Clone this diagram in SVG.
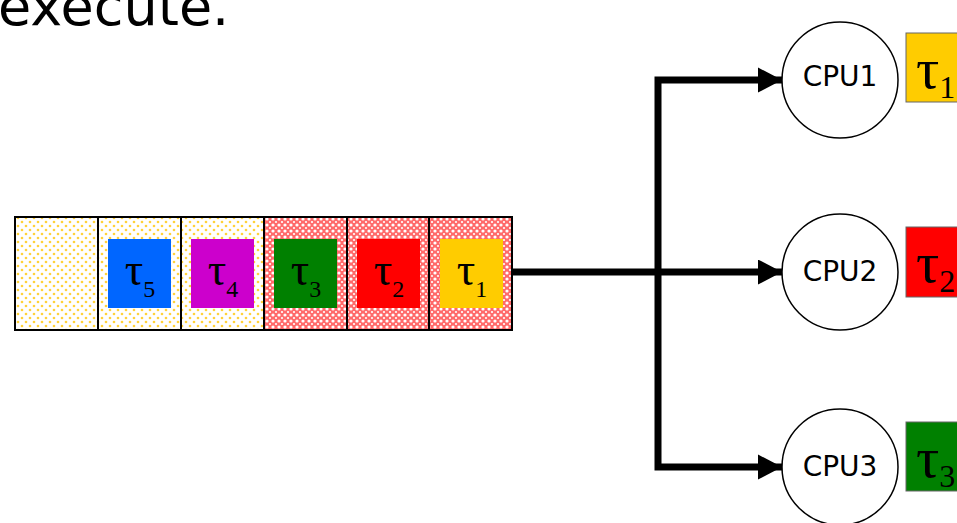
<svg xmlns="http://www.w3.org/2000/svg" width="957" height="523" viewBox="0 0 957 523">
<defs>
<pattern id="dots" width="8" height="8" patternUnits="userSpaceOnUse">
<rect width="8" height="8" fill="#fff"/>
<circle cx="2" cy="2" r="1.3" fill="#FFD23A"/>
<circle cx="6" cy="6" r="1.3" fill="#FFD23A"/>
</pattern>
<pattern id="check" width="6" height="6" patternUnits="userSpaceOnUse">
<rect width="6" height="6" fill="#FF6A6A"/>
<circle cx="3" cy="3" r="1.6" fill="#fff"/>
<circle cx="0" cy="0" r="1.1" fill="#fff"/>
<circle cx="6" cy="0" r="1.1" fill="#fff"/>
<circle cx="0" cy="6" r="1.1" fill="#fff"/>
<circle cx="6" cy="6" r="1.1" fill="#fff"/>
</pattern>
<marker id="arr" markerUnits="userSpaceOnUse" markerWidth="26" markerHeight="26" refX="24" refY="12.5" orient="auto">
<path d="M0,0 L24,12.5 L0,25 Z" fill="#000"/>
</marker>
</defs>
<style>
.cell{stroke:#000;stroke-width:2}
.tau{font-family:"Liberation Serif","Times New Roman",serif;fill:#000}
.cpu{fill:#fff;stroke:#000;stroke-width:1.5}
.cput{font-family:"DejaVu Sans",Verdana,sans-serif;font-size:28px;fill:#000}
.wire{fill:none;stroke:#000;stroke-width:7}
</style>

<text x="-2" y="25" font-family="DejaVu Sans, Verdana, sans-serif" font-size="54" fill="#000">execute.</text>

<g id="queue">
<rect class="cell" x="15" y="217" width="83" height="113" fill="url(#dots)"/>
<rect class="cell" x="98" y="217" width="83" height="113" fill="url(#dots)"/>
<rect class="cell" x="181" y="217" width="83" height="113" fill="url(#dots)"/>
<rect class="cell" x="264" y="217" width="83" height="113" fill="url(#check)"/>
<rect class="cell" x="347" y="217" width="82" height="113" fill="url(#check)"/>
<rect class="cell" x="429" y="217" width="83" height="113" fill="url(#check)"/>
</g>

<g id="task5">
<rect x="108" y="239" width="63" height="69" fill="#0066FF"/>
<text class="tau" x="140" y="285" font-size="46" text-anchor="middle">τ<tspan font-size="24" dy="12">5</tspan></text>
</g>
<g id="task4">
<rect x="191" y="239" width="63" height="69" fill="#CC00CC"/>
<text class="tau" x="223" y="285" font-size="46" text-anchor="middle">τ<tspan font-size="24" dy="12">4</tspan></text>
</g>
<g id="task3">
<rect x="274" y="239" width="63" height="69" fill="#008000"/>
<text class="tau" x="306" y="285" font-size="46" text-anchor="middle">τ<tspan font-size="24" dy="12">3</tspan></text>
</g>
<g id="task2">
<rect x="357" y="239" width="63" height="69" fill="#FF0000"/>
<text class="tau" x="389" y="285" font-size="46" text-anchor="middle">τ<tspan font-size="24" dy="12">2</tspan></text>
</g>
<g id="task1">
<rect x="440" y="239" width="63" height="69" fill="#FFCC00"/>
<text class="tau" x="472" y="285" font-size="46" text-anchor="middle">τ<tspan font-size="24" dy="12">1</tspan></text>
</g>

<g id="connectors">
<line class="wire" x1="512" y1="272" x2="782" y2="272" marker-end="url(#arr)"/>
<polyline class="wire" points="782,80 658,80 658,467 782,467" stroke-linejoin="miter"/>
<path d="M758,67.5 L782,80 L758,92.5 Z" fill="#000"/>
<path d="M758,454.5 L782,467 L758,479.5 Z" fill="#000"/>
</g>

<g id="cpu1">
<circle class="cpu" cx="840" cy="80" r="58"/>
<text class="cput" x="840" y="86" text-anchor="middle">CPU1</text>
</g>
<g id="cpu2">
<circle class="cpu" cx="840" cy="272" r="58"/>
<text class="cput" x="840" y="281" text-anchor="middle">CPU2</text>
</g>
<g id="cpu3">
<circle class="cpu" cx="840" cy="467" r="58"/>
<text class="cput" x="840" y="476" text-anchor="middle">CPU3</text>
</g>

<g id="run1">
<rect x="906" y="33" width="64" height="69" fill="#FFCC00" stroke="#666" stroke-width="1"/>
<text class="tau" x="916" y="88" font-size="58">τ<tspan font-size="32" dy="10">1</tspan></text>
</g>
<g id="run2">
<rect x="906" y="227" width="64" height="70" fill="#FF0000" stroke="#666" stroke-width="1"/>
<text class="tau" x="916" y="282" font-size="58">τ<tspan font-size="32" dy="10">2</tspan></text>
</g>
<g id="run3">
<rect x="906" y="422" width="64" height="69" fill="#008000" stroke="#666" stroke-width="1"/>
<text class="tau" x="916" y="477" font-size="58">τ<tspan font-size="32" dy="10">3</tspan></text>
</g>
</svg>
